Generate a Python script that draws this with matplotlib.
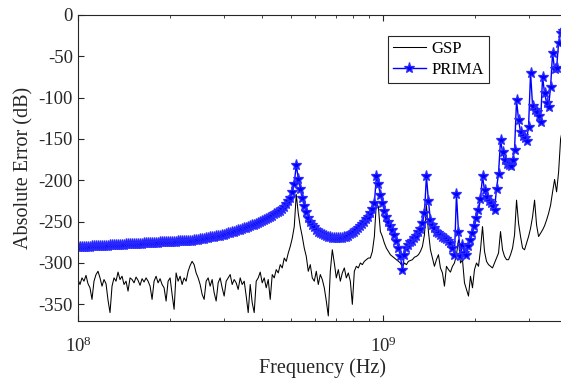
import numpy as np
import matplotlib.pyplot as plt

plt.rcParams['font.family'] = ['Liberation Serif', 'DejaVu Serif']
plt.rcParams['mathtext.fontset'] = 'custom'
plt.rcParams['mathtext.rm'] = 'Liberation Serif'
plt.rcParams['axes.unicode_minus'] = False

# frequency range of the sweep (Hz), both methods on the same log grid
f_start = 1e8
f_stop = 4e9

# absolute error of GSP (dB)
gsp_db = [
    -320, -326, -318, -322, -315, -325, -330, -344, -322, -314,
    -310, -318, -328, -320, -325, -345, -360, -328, -318, -322,
    -311, -320, -316, -326, -322, -334, -318, -320, -324, -317,
    -321, -327, -319, -323, -318, -322, -328, -344, -322, -316,
    -324, -319, -326, -330, -346, -322, -318, -338, -356, -312,
    -322, -316, -326, -318, -322, -310, -303, -298,
    -302, -312, -318, -326, -338, -344, -322, -318, -328, -320,
    -336, -346, -324, -318, -330, -340, -322, -318, -314, -326,
    -320, -324, -332, -318, -326, -322, -340, -360, -326, -348,
    -360, -322, -318, -311, -324, -318, -330, -320, -344, -314,
    -318, -308, -312, -302, -306, -294, -298, -288, -280, -270,
    -256, -217,
    -240, -256, -268, -282, -292, -310, -302, -318, -322, -310,
    -326, -314, -320, -330, -346, -364, -310, -284, -300, -318,
    -308, -322, -312, -306, -318, -312, -322, -350, -310, -304,
    -306, -300, -302, -298, -296, -294, -294, -286, -268, -227,
    -232, -262,
    -268, -276, -282, -286, -290, -292, -294, -296, -298, -300,
    -305, -300, -302, -298, -297, -296, -293, -292, -290, -286,
    -280, -266, -230,
    -262, -284, -294, -304, -296, -290, -306, -312, -328, -304,
    -308, -311, -304, -300, -290, -272, -300, -296, -324, -332,
    -340, -316, -330, -308, -300, -304, -284, -256, -286, -298,
    -302, -304, -306, -300, -294, -288, -262, -284, -292, -296,
    -296, -290, -282, -266, -224, -252, -268, -282, -284, -276,
    -268, -258, -244, -224, -254, -268, -264, -260, -255, -248,
    -240, -230, -214, -199, -214, -190, -150, -138, -134, -132,
]

# absolute error of PRIMA (dB)
prima_db = [
    -281.0, -280.9, -280.7, -280.6, -280.4, -280.3, -280.2, -280.0, -279.9, -279.7,
    -279.6, -279.5, -279.3, -279.2, -279.0, -278.9, -278.8, -278.6, -278.5, -278.3,
    -278.2, -278.1, -277.9, -277.8, -277.6, -277.5, -277.4, -277.2, -277.1, -276.9,
    -276.8, -276.6, -276.5, -276.4, -276.2, -276.1, -275.9, -275.8, -275.7, -275.5,
    -275.4, -275.2, -275.1, -275.0, -274.8, -274.7, -274.5, -274.4, -274.2, -274.1,
    -274.0, -273.8, -273.7, -273.5, -273.4, -273.3, -273.1, -273.0,
    -272.6, -272.1, -271.7, -271.3, -270.9, -270.4, -270.0, -269.6, -269.1, -268.7,
    -268.3, -267.9, -267.4, -267.0, -266.3, -265.6, -264.9, -264.2, -263.5, -262.8,
    -262.1, -261.4, -260.7, -260.0, -259.1, -258.2, -257.3, -256.4, -255.5, -254.6,
    -253.7, -252.8, -251.9, -251.0, -249.6, -248.2, -246.8, -245.4, -244.0, -242.6,
    -241.2, -239.8, -238.4, -237.0, -234.4, -232.0, -229.0, -225.5, -221.0, -214.0,
    -204.0, -181.0,
    -198, -211, -222, -231, -238, -245, -250, -254, -257, -260,
    -262, -263.5, -265, -266, -267.5, -268.2, -268.8, -269.3, -269.7, -270,
    -270, -269.8, -269.4, -268.8, -268, -267, -265.5, -264, -262, -260,
    -257.5, -255, -252.5, -250, -247, -244, -240, -235, -228, -195,
    -205,
    -218, -228, -237, -244, -250, -255, -260, -266, -273, -282,
    -292, -308, -290, -282, -278, -275, -273, -270, -267, -263,
    -259, -252, -240, -195, -225,
    -248, -254, -258, -262, -264, -266, -268, -270, -271, -273,
    -276, -282, -290, -217, -262, -292, -278, -288, -290, -280,
    -272, -264, -255, -246, -236, -223, -195, -212, -220, -225,
    -228, -231, -236, -210, -192, -151, -166, -176, -180, -182,
    -183, -176, -163, -103, -127, -142, -146, -149, -152, -135,
    -70, -110, -115, -118, -122, -130, -75, -95, -106, -111,
    -87, -46, -66, -64, -34, -22, -20, -18, -17,
]

freq = np.logspace(np.log10(f_start), np.log10(f_stop), len(gsp_db))

fig = plt.figure(figsize=(5.61, 3.82), dpi=100)
ax = fig.add_axes([0.139, 0.16, 1.01 - 0.139, 0.801])

ax.plot(freq, gsp_db, color='black', lw=0.75, label='GSP')
ax.plot(freq, prima_db, color='blue', lw=1.0, marker='*',
        markersize=8, markeredgewidth=0.9, markeredgecolor='#2a2aff',
        label='PRIMA')

ax.set_xscale('log')
ax.set_xlim(f_start, f_stop)
ax.set_ylim(-370, 0)
ax.set_yticks(np.arange(-350, 1, 50))
ax.tick_params(which='both', direction='in', top=True, right=False,
               labelsize=13.5, colors='#262626')
ax.tick_params(axis='x', which='major', pad=11)
ax.tick_params(which='major', length=4)
ax.tick_params(which='minor', length=2.5)
for s in ax.spines.values():
    s.set_color('#262626')
    s.set_linewidth(0.8)
ax.spines['right'].set_visible(False)

ax.set_xlabel('Frequency (Hz)', fontsize=14.5, color='#262626', labelpad=2)
ax.set_ylabel('Absolute Error (dB)', fontsize=14.5, color='#262626')

leg = ax.legend(loc='upper left', bbox_to_anchor=(0.634, 0.931), fontsize=12,
                fancybox=False, framealpha=1, edgecolor='#262626',
                handlelength=2.0, borderpad=0.3, labelspacing=0.3,
                handletextpad=0.3, borderaxespad=0)
leg.get_frame().set_linewidth(0.8)

fig.savefig('out.png', dpi=100)
